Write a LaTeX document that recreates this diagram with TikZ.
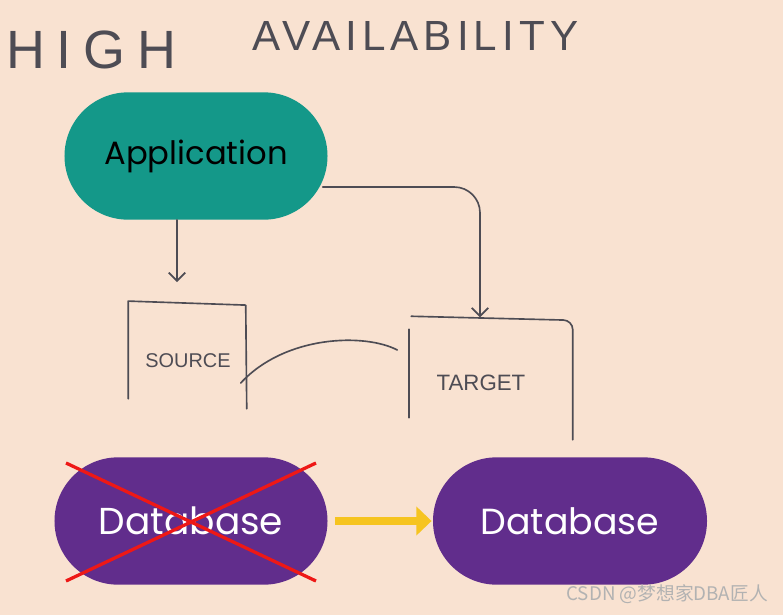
\documentclass[tikz,border=0pt]{standalone}
\usepackage{fontspec}
\setmainfont{Poppins}
\newfontfamily\handfont{Liberation Sans}
\newfontfamily\cjk{Noto Sans CJK SC}
\usetikzlibrary{shapes.misc,arrows.meta}
\definecolor{paper}{RGB}{249,226,209}
\definecolor{appteal}{RGB}{20,152,137}
\definecolor{dbpurple}{RGB}{97,45,140}
\definecolor{ink}{RGB}{78,76,84}
\definecolor{flow}{RGB}{246,196,32}
\definecolor{cross}{RGB}{238,24,22}
\begin{document}
\begin{tikzpicture}[x=0.03cm,y=-0.03cm,
  pill/.style={shape=rounded rectangle,inner sep=0pt,minimum height=3.82cm},
  hand/.style={draw=ink,line width=1.4pt,line cap=round,line join=round},
  handtext/.style={text=ink,font=\handfont\fontsize{#1}{#1}\selectfont}]
\fill[paper] (0,0) rectangle (783,615);
\useasboundingbox (0,0) rectangle (783,615);
% title
\node[handtext=46,anchor=west] (t1) at (2,50) {\addfontfeature{LetterSpace=22}HIGH};
\node[handtext=36,anchor=west] (t2) at (248,36) {\addfontfeature{LetterSpace=12}AVAILABILITY};
% boxes
\node[pill,fill=appteal,minimum width=7.89cm,font=\fontsize{27.5}{30}\selectfont] (app) at (196,156) {Application};
\node[pill,fill=dbpurple,text=white,minimum width=8.19cm,font=\fontsize{32}{34}\selectfont] (db1) at (191,521) {Database};
\node[pill,fill=dbpurple,text=white,minimum width=8.22cm,font=\fontsize{31}{34}\selectfont] (db2) at (570,521) {Database};
\node[handtext=17,minimum width=3.57cm,minimum height=3.1cm,text height=21pt,text depth=0pt] (src) at (188,355) {SOURCE};
\node[handtext=19,minimum width=4.89cm,minimum height=3.69cm,text height=22pt,text depth=0pt,xshift=-0.3cm] (tgt) at (491,378) {TARGET};
\coordinate (dn) at (177,282);
% hand drawn parts
\draw[hand] ([shift={(0,-8)}]src.south west) -- ([shift={(0,-2)}]src.north west) -- ([shift={(-2,2)}]src.north east) -- ([shift={(-1,2)}]src.south east);
\draw[hand] ([shift={(10,-22)}]tgt.south west) -- ([shift={(10,13)}]tgt.north west);
\draw[hand,rounded corners=8pt] ([shift={(12,0)}]tgt.north west) -- ([shift={(10,4)}]tgt.north east) -- ([shift={(10,0)}]tgt.south east);
\draw[hand,-{Straight Barb[length=7pt,width=14pt]}] ([shift={(-19,0)}]app.south) -- (dn);
\draw[hand,rounded corners=22pt,-{Straight Barb[length=7pt,width=14pt]}] ([shift={(-5,31)}]app.east) -| ([shift={(-1,1)}]tgt.north);
\draw[hand] ([shift={(-7,28)}]src.east) .. controls (285,335) and (365,333) .. ([shift={(-2,-28)}]tgt.west);
% failover
\draw[flow,line width=6.5pt,-{Triangle[length=13pt,width=24pt]}] ([xshift=6pt]db1.east) -- ([xshift=-1pt]db2.west);
\draw[cross,line width=2.8pt] ([shift={(-125,-58)}]db1.center) -- ([shift={(125,60)}]db1.center);
\draw[cross,line width=2.8pt] ([shift={(125,-58)}]db1.center) -- ([shift={(-125,60)}]db1.center);
% watermark
\node[anchor=south east,text=white!70!black,font=\cjk\fontsize{16}{16}\selectfont] (wm) at (772,608) {CSDN @梦想家DBA匠人};
\end{tikzpicture}
\end{document}
